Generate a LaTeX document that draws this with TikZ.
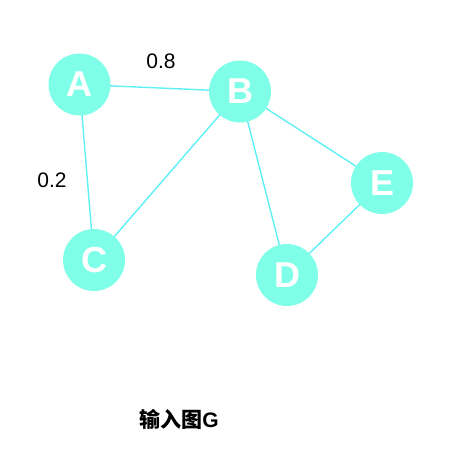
\documentclass[tikz,border=0pt]{standalone}
\usepackage{fontspec}
\setmainfont{Liberation Sans}
\newfontfamily\cjk{Noto Sans CJK SC}
\definecolor{nodefill}{RGB}{128,255,232}
\definecolor{edgecol}{RGB}{95,240,245}
\begin{document}
\begin{tikzpicture}[x=1pt,y=-1pt,
  vertex/.style={circle,fill=nodefill,minimum size=62pt,inner sep=0pt,text=white,font=\fontsize{36}{36}\selectfont\bfseries},
  edge/.style={draw=edgecol,line width=1.4pt},
  wlabel/.style={font=\fontsize{21}{21}\selectfont,text=black}]
\useasboundingbox (0,0) rectangle (457,456);
\coordinate (pA) at (79.5,84.5);
\coordinate (pB) at (240,91.5);
\coordinate (pC) at (94,260);
\coordinate (pD) at (287,275);
\coordinate (pE) at (382,183);
\draw[edge] (pA) -- (pB);
\draw[edge] (pA) -- (pC);
\draw[edge] (pB) -- (pC);
\draw[edge] (pB) -- (pD);
\draw[edge] (pB) -- (pE);
\draw[edge] (pD) -- (pE);
\node[vertex] (A) at (pA) {A};
\node[vertex] (B) at (pB) {B};
\node[vertex] (C) at (pC) {C};
\node[vertex] (D) at (pD) {D};
\node[vertex] (E) at (pE) {E};
\node[wlabel] (w1) at (161,61.5) {0.8};
\node[wlabel] (w2) at (52,180.5) {0.2};
\node[font=\fontsize{21}{21}\selectfont\bfseries] (title) at (179,419) {{\cjk\bfseries 输入图}G};
\end{tikzpicture}
\end{document}
